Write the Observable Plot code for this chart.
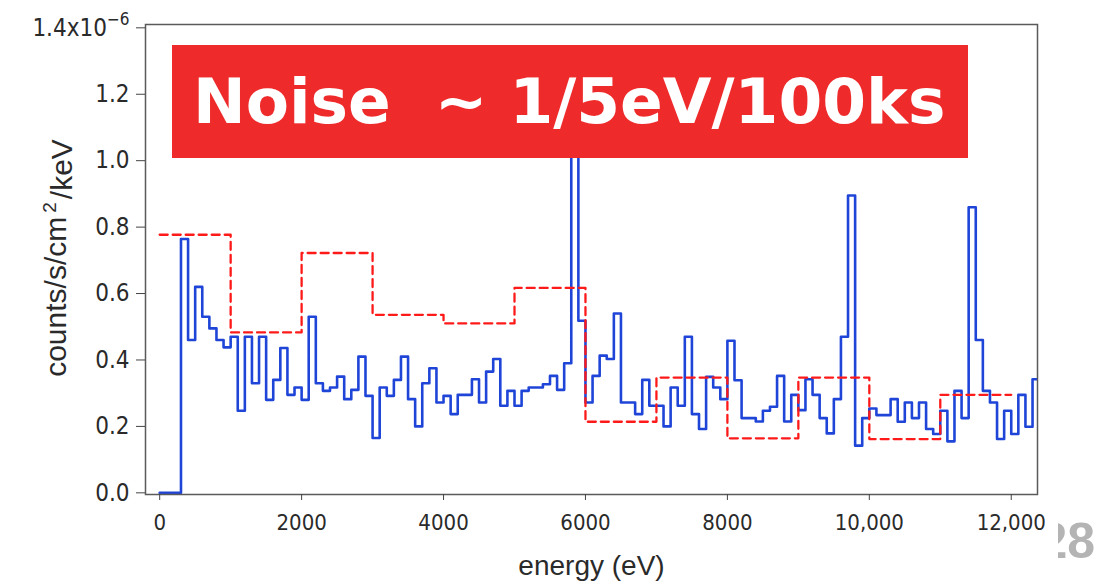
<!DOCTYPE html>
<html>
<head>
<meta charset="utf-8">
<script src="https://cdn.jsdelivr.net/npm/d3@7"></script>
<script src="https://cdn.jsdelivr.net/npm/@observablehq/plot@0.6"></script>
<style>
  body { margin: 0; background: #fff; }
  #wrap { position: relative; width: 1099px; height: 588px; overflow: hidden; background: #fff; }
  #page { position: absolute; left: 1058px; top: 512px; width: 41px; height: 62px; overflow: hidden; }
  #page span { position: absolute; right: 4px; top: 0; font: bold 50px "Liberation Sans", Arial, sans-serif; color: #b4b4b4; line-height: 58px; white-space: nowrap; }
</style>
</head>
<body>
<div id="wrap"><div id="page"><span>28</span></div></div>
<script>
// ---- data (values in units of 1e-6 counts/s/cm^2/keV) ----
const binWidth = 100; // eV, blue spectrum bins
const blueValues = [
  0, 0, 0, 0.764, 0.46, 0.62, 0.53, 0.495, 0.46, 0.438,
  0.47, 0.247, 0.47, 0.33, 0.47, 0.28, 0.34, 0.436, 0.295, 0.317,
  0.28, 0.53, 0.33, 0.307, 0.317, 0.35, 0.282, 0.31, 0.41, 0.292,
  0.165, 0.317, 0.292, 0.34, 0.41, 0.282, 0.20, 0.33, 0.375, 0.272,
  0.292, 0.237, 0.295, 0.295, 0.342, 0.272, 0.365, 0.403, 0.262, 0.307,
  0.262, 0.307, 0.317, 0.317, 0.327, 0.352, 0.31, 0.39, 1.3, 0.518,
  0.272, 0.352, 0.413, 0.403, 0.54, 0.272, 0.272, 0.237, 0.34, 0.262,
  0.262, 0.20, 0.317, 0.262, 0.47, 0.237, 0.192, 0.349, 0.317, 0.282,
  0.458, 0.339, 0.225, 0.225, 0.215, 0.247, 0.259, 0.352, 0.215, 0.295,
  0.249, 0.342, 0.295, 0.225, 0.179, 0.282, 0.47, 0.895, 0.142, 0.225,
  0.254, 0.234, 0.234, 0.282, 0.214, 0.272, 0.225, 0.272, 0.192, 0.177,
  0.247, 0.155, 0.307, 0.225, 0.86, 0.46, 0.307, 0.272, 0.162, 0.247,
  0.177, 0.295, 0.199, 0.342
];
const redBinStart = [0, 1000, 2000, 3000, 4000, 5000, 6000, 7000, 8000, 9000, 10000, 11000];
const redLevels   = [0.777, 0.483, 0.722, 0.536, 0.51, 0.617, 0.214, 0.347, 0.164, 0.347, 0.162, 0.295];
const redEnd = 12000;

const xTicks = [0, 2000, 4000, 6000, 8000, 10000, 12000];
const xTickLabels = ["0", "2000", "4000", "6000", "8000", "10,000", "12,000"];
const yTicks = [0, 0.2, 0.4, 0.6, 0.8, 1.0, 1.2, 1.4];
const yTickLabels = ["0.0", "0.2", "0.4", "0.6", "0.8", "1.0", "1.2", "1.4x10"];
const yExponent = "\u22126";
const xLabel = "energy (eV)";
const yLabelParts = ["counts/s/cm", "2", "/keV"];
const bannerText = "Noise  ~ 1/5eV/100ks";

// ---- build step tables ----
const bluePts = blueValues.map((v, i) => ({x: i * binWidth, y: v}));
bluePts.push({x: blueValues.length * binWidth, y: blueValues[blueValues.length - 1]});
const redPts = redBinStart.map((x, i) => ({x, y: redLevels[i]}));
redPts.push({x: redEnd, y: redLevels[redLevels.length - 1]});

const font = "'Liberation Sans', Arial, sans-serif";
const narrow = "'Liberation Sans Narrow', 'DejaVu Sans Condensed', 'Liberation Sans', sans-serif";
const ink = "#2a2a2a";
const plot = Plot.plot({
  width: 1099,
  height: 588,
  marginLeft: 145,
  marginRight: 62,
  marginTop: 24,
  marginBottom: 94,
  style: {fontFamily: font, fontSize: "20px", color: ink, background: "white"},
  x: {domain: [-200, 12370]},
  y: {domain: [-0.005, 1.41]},
  marks: [
    Plot.line(bluePts, {x: "x", y: "y", curve: "step-after", stroke: "#1f45d8", strokeWidth: 2.6, clip: true}),
    Plot.line(redPts, {x: "x", y: "y", curve: "step-after", stroke: "#ff1a1a", strokeWidth: 2.3, strokeDasharray: "8,5", clip: true}),
    Plot.frame({stroke: "#5a5a5a", strokeWidth: 1.5}),
    Plot.axisX({
      ticks: xTicks,
      tickFormat: d => xTickLabels[xTicks.indexOf(d)],
      tickSize: 6, tickPadding: 14, fontSize: 22, fontFamily: narrow, label: null, stroke: "#444"
    }),
    Plot.axisY({
      ticks: yTicks,
      tickFormat: d => yTickLabels[yTicks.findIndex(t => Math.abs(t - d) < 1e-9)],
      tickSize: 9, tickPadding: 7, fontSize: 24, fontFamily: narrow, label: null, stroke: "#444"
    }),
    Plot.text([xLabel], {frameAnchor: "bottom", dy: 80, text: d => d, fontSize: 28, fill: ink})
  ]
});

const svg = d3.select(plot);
// superscript exponent on the top y tick label
svg.selectAll('g[aria-label="y-axis tick label"] text').each(function() {
  if (this.textContent === yTickLabels[yTickLabels.length - 1]) {
    d3.select(this).append("tspan").attr("dy", "-0.6em").attr("font-size", "17px").text(yExponent);
  }
});
// y axis title with superscript
const yt = svg.append("text").attr("aria-label", "y-axis label")
  .attr("transform", "translate(66,258) rotate(-90)")
  .attr("text-anchor", "middle").attr("fill", ink)
  .attr("font-family", font).attr("font-size", 30);
yt.append("tspan").text(yLabelParts[0]);
yt.append("tspan").attr("dx", 4).attr("dy", "-0.55em").attr("font-size", 19).text(yLabelParts[1]);
yt.append("tspan").attr("dx", 3).attr("dy", "0.55em").text(yLabelParts[2]);

// red banner annotation
const banner = svg.append("g").attr("aria-label", "banner");
banner.append("rect").attr("x", 172).attr("y", 45).attr("width", 796).attr("height", 113).attr("fill", "#ee2a2b");
banner.append("text").attr("x", 193).attr("y", 123).attr("text-anchor", "start")
  .attr("fill", "#fff").attr("font-family", "'DejaVu Sans', Verdana, sans-serif")
  .attr("font-weight", "bold").attr("font-size", 63)
  .style("white-space", "pre").text(bannerText);

document.getElementById("wrap").prepend(plot);
</script>
</body>
</html>
